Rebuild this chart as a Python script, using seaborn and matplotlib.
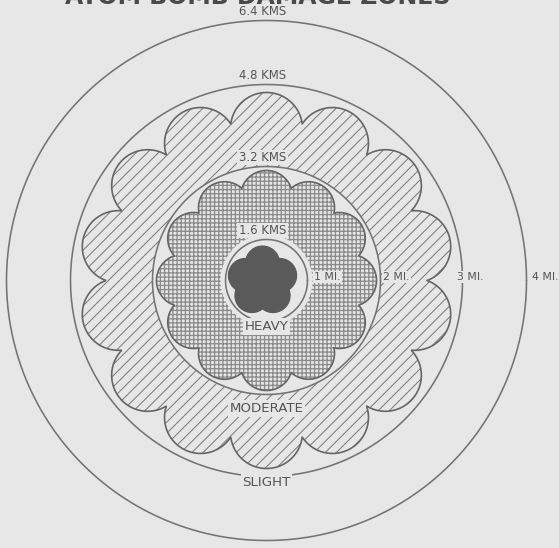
import numpy as np
import pandas as pd
import matplotlib
matplotlib.use("Agg")
import matplotlib.pyplot as plt
import seaborn as sns
from matplotlib.patches import Polygon, Circle

# ---------------- data ----------------
ring_miles = [1, 2, 3, 4]
ring_mi_labels = ["1 MI.", "2 MI.", "3 MI.", "4 MI."]
ring_km_labels = ["1.6 KMS", "3.2 KMS", "4.8 KMS", "6.4 KMS"]
zone_names = ["HEAVY", "MODERATE", "SLIGHT"]
zone_lobe_counts = [5, 12, 14]
title_text = "ATOM BOMB DAMAGE ZONES"

# ---------------- geometry / style (drawing units = pixels) ----------------
W, H = 559, 548
CX, CY = 266.5, 280.5
ring_draw_radius = {1: 41, 2: 114, 3: 196, 4: 260}
zone_geom = {  # lobe-centre radius, lobe radius, start angle (deg)
    "HEAVY": (18, 17, 90),
    "MODERATE": (84, 26, 90),
    "SLIGHT": (152, 36, 90),
}
BG = "#e7e7e7"
LINE = "#747474"
OUTLINE = "#666666"
HATCH_D = "#7e7e7e"
HATCH_X = "#8c8c8c"
DARK = "#5a5a5a"
TEXT = "#555555"

sns.set_theme(style="white", rc={"axes.facecolor": BG, "figure.facecolor": BG})
plt.rcParams["font.family"] = ["DejaVu Sans"]


def cloud(n, a, b, start_deg, cx=CX, cy=CY, npts=3000):
    th = np.linspace(0, 2 * np.pi, npts)
    centers = np.deg2rad(start_deg + 360.0 / n * np.arange(n))
    phi = th[:, None] - centers[None, :]
    phi = (phi + np.pi) % (2 * np.pi) - np.pi
    disc = b ** 2 - (a * np.sin(phi)) ** 2
    r = np.where((disc >= 0) & (np.cos(phi) > 0),
                 a * np.cos(phi) + np.sqrt(np.clip(disc, 0, None)), 0.0)
    r = r.max(axis=1)
    return np.column_stack([cx + r * np.cos(th), cy - r * np.sin(th)])


def hatched(pts, pattern, color, hlw, z):
    with plt.rc_context({"hatch.linewidth": hlw}):
        p = Polygon(pts, closed=True, facecolor=BG, edgecolor=color, lw=0,
                    hatch=pattern, zorder=z)
    if hasattr(p, "set_hatch_linewidth"):
        p.set_hatch_linewidth(hlw)
    return p


fig = plt.figure(figsize=(W / 100, H / 100), dpi=100)
ax = fig.add_axes([0, 0, 1, 1])

# slight zone (diagonal hatch)
a, b, s = zone_geom["SLIGHT"]
pts = cloud(zone_lobe_counts[2], a, b, s)
ax.add_patch(hatched(pts, "///", HATCH_D, 0.75, 1))
ax.add_patch(Polygon(pts, closed=True, fill=False, edgecolor=OUTLINE, lw=1.2, zorder=2))
# knock-out inside 2 mi ring
ax.add_patch(Circle((CX, CY), ring_draw_radius[2], facecolor=BG, edgecolor="none", zorder=3))

# moderate zone (cross hatch)
a, b, s = zone_geom["MODERATE"]
pts = cloud(zone_lobe_counts[1], a, b, s)
ax.add_patch(hatched(pts, "++++", HATCH_X, 0.95, 4))
ax.add_patch(Polygon(pts, closed=True, fill=False, edgecolor=OUTLINE, lw=1.2, zorder=5))
# knock-out around 1 mi ring
ax.add_patch(Circle((CX, CY), ring_draw_radius[1] + 5, facecolor=BG, edgecolor="none", zorder=6))

# rings
t = np.linspace(0, 2 * np.pi, 721)
rows = []
for m in ring_miles:
    r = ring_draw_radius[m]
    for tt in t:
        rows.append({"ring": m, "x": CX + r * np.cos(tt), "y": CY - r * np.sin(tt)})
df = pd.DataFrame(rows)
sns.lineplot(data=df, x="x", y="y", units="ring", estimator=None, sort=False,
             color=LINE, lw=1.15, ax=ax, zorder=7, legend=False)

# heavy zone (solid)
a, b, s = zone_geom["HEAVY"]
pts = cloud(zone_lobe_counts[0], a, b, s, cx=CX - 4, cy=CY + 0.5)
ax.add_patch(Polygon(pts, closed=True, facecolor=DARK, edgecolor=DARK, lw=0.8, zorder=8))

box = dict(boxstyle="square,pad=0.12", fc=BG, ec="none")
# km labels above ring tops
for m, lab in zip(ring_miles, ring_km_labels):
    r = ring_draw_radius[m]
    ax.text(CX - 4, CY - r - 9, lab, ha="center", va="center", fontsize=8.4,
            color=TEXT, bbox=box, zorder=10)
# mile labels to the right of rings
mi_offsets = {1: 20, 2: 16, 3: 8, 4: 19}
for m, lab in zip(ring_miles, ring_mi_labels):
    r = ring_draw_radius[m]
    ax.text(CX + r + mi_offsets[m], CY - 3.5, lab, ha="center", va="center",
            fontsize=7.8, color=TEXT, bbox=box, zorder=10)
# zone labels
zone_label_y = {"HEAVY": CY + 46, "MODERATE": CY + 128, "SLIGHT": CY + 202}
for z in zone_names:
    ax.text(CX, zone_label_y[z], z, ha="center", va="center", fontsize=9.6,
            color=TEXT, bbox=box, zorder=10)

# title, mostly cut off by the top edge (as in the source scan)
ax.text(258, 4, title_text, ha="center", va="baseline", fontsize=17,
        fontweight="bold", color="#4a4a4a", zorder=10)

ax.set_xlim(0, W)
ax.set_ylim(H, 0)
ax.axis("off")
fig.savefig("out.png", dpi=100, facecolor=BG)
